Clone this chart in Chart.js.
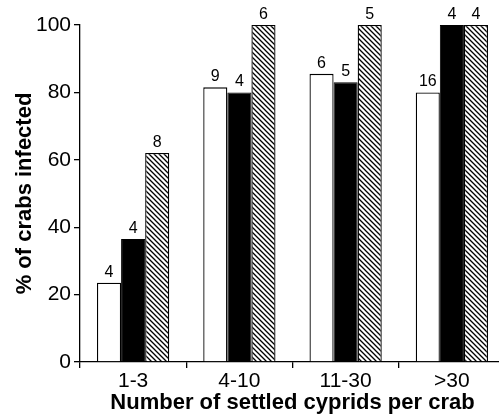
<!DOCTYPE html>
<html lang="en">
<head>
  <meta charset="UTF-8" />
  <title>Crabs infected by settled cyprids</title>
  <script src="https://cdn.jsdelivr.net/npm/chart.js"></script>
  <style>
    html, body { margin: 0; padding: 0; background: #fff; overflow: hidden; }
    #wrap { width: 505px; height: 416px; }
  </style>
</head>
<body>
  <div id="wrap"><canvas id="barChart" width="505" height="416"></canvas></div>

  <script>
    // categories and values
    const categories = ["1-3", "4-10", "11-30", ">30"];
    const openValues = [23.5, 81.5, 85.5, 80];
    const blackValues = [36.5, 80, 83, 100];
    const hatchValues = [62, 100, 100, 100];
    // sample sizes printed above bars
    const openN = [4, 9, 6, 16];
    const blackN = [4, 4, 5, 4];
    const hatchN = [8, 6, 5, 4];
    const yTicks = [0, 20, 40, 60, 80, 100];

    const FONT = "'Liberation Sans', Arial, sans-serif";

    // diagonal hatch pattern
    function makeHatch() {
      const size = 5;
      const c = document.createElement("canvas");
      c.width = size; c.height = size;
      const g = c.getContext("2d");
      g.fillStyle = "#fff";
      g.fillRect(0, 0, size, size);
      g.strokeStyle = "#000";
      g.lineWidth = 1.3;
      g.beginPath();
      g.moveTo(-1, -1); g.lineTo(size + 1, size + 1);
      g.moveTo(-1, size - 1); g.lineTo(1, size + 1);
      g.moveTo(size - 1, -1); g.lineTo(size + 1, 1);
      g.stroke();
      return g.createPattern(c, "repeat");
    }

    // draw n above each bar
    const countLabels = {
      id: "countLabels",
      afterDatasetsDraw(chart) {
        const ctx = chart.ctx;
        ctx.save();
        ctx.fillStyle = "#000";
        ctx.font = "16px " + FONT;
        ctx.textAlign = "center";
        ctx.textBaseline = "alphabetic";
        chart.data.datasets.forEach((ds, i) => {
          chart.getDatasetMeta(i).data.forEach((bar, j) => {
            ctx.fillText(ds.counts[j], bar.x, bar.y - 6);
          });
        });
        ctx.restore();
      }
    };

    new Chart(document.getElementById("barChart"), {
      type: "bar",
      data: {
        labels: categories,
        datasets: [
          { data: openValues, counts: openN, backgroundColor: "#fff", borderColor: "#000", borderWidth: 1.3 },
          { data: blackValues, counts: blackN, backgroundColor: "#000", borderColor: "#000", borderWidth: 1 },
          { data: hatchValues, counts: hatchN, backgroundColor: makeHatch(), borderColor: "#000", borderWidth: 1.3 }
        ]
      },
      options: {
        responsive: false,
        animation: false,
        layout: { padding: { top: 25, right: 0, left: 0, bottom: 0 } },
        categoryPercentage: 0.68,
        barPercentage: 1.0,
        plugins: {
          legend: { display: false },
          tooltip: { enabled: false }
        },
        scales: {
          x: {
            offset: true,
            border: { color: "#000", width: 1.3 },
            grid: { offset: true, drawOnChartArea: false, color: "#000", tickLength: 6, lineWidth: 1.3 },
            ticks: { color: "#000", font: { size: 21, family: FONT }, padding: 1 },
            title: {
              display: true,
              text: "Number of settled cyprids per crab",
              color: "#000",
              font: { size: 22, weight: "bold", family: FONT },
              padding: { top: 0, bottom: 0 }
            },
            afterFit(s) { s.height = 54; }
          },
          y: {
            min: 0,
            max: 100,
            afterBuildTicks(s) { s.ticks = yTicks.map(v => ({ value: v })); },
            border: { color: "#000", width: 1.3 },
            grid: { drawOnChartArea: false, color: "#000", tickLength: 6, lineWidth: 1.3 },
            ticks: { color: "#000", font: { size: 21, family: FONT }, padding: 3 },
            title: {
              display: true,
              text: "% of crabs infected",
              color: "#000",
              font: { size: 22, weight: "bold", family: FONT },
              padding: { top: 12, bottom: 0 }
            },
            afterFit(s) { s.width = 80; }
          }
        }
      },
      plugins: [countLabels]
    });
  </script>
</body>
</html>
